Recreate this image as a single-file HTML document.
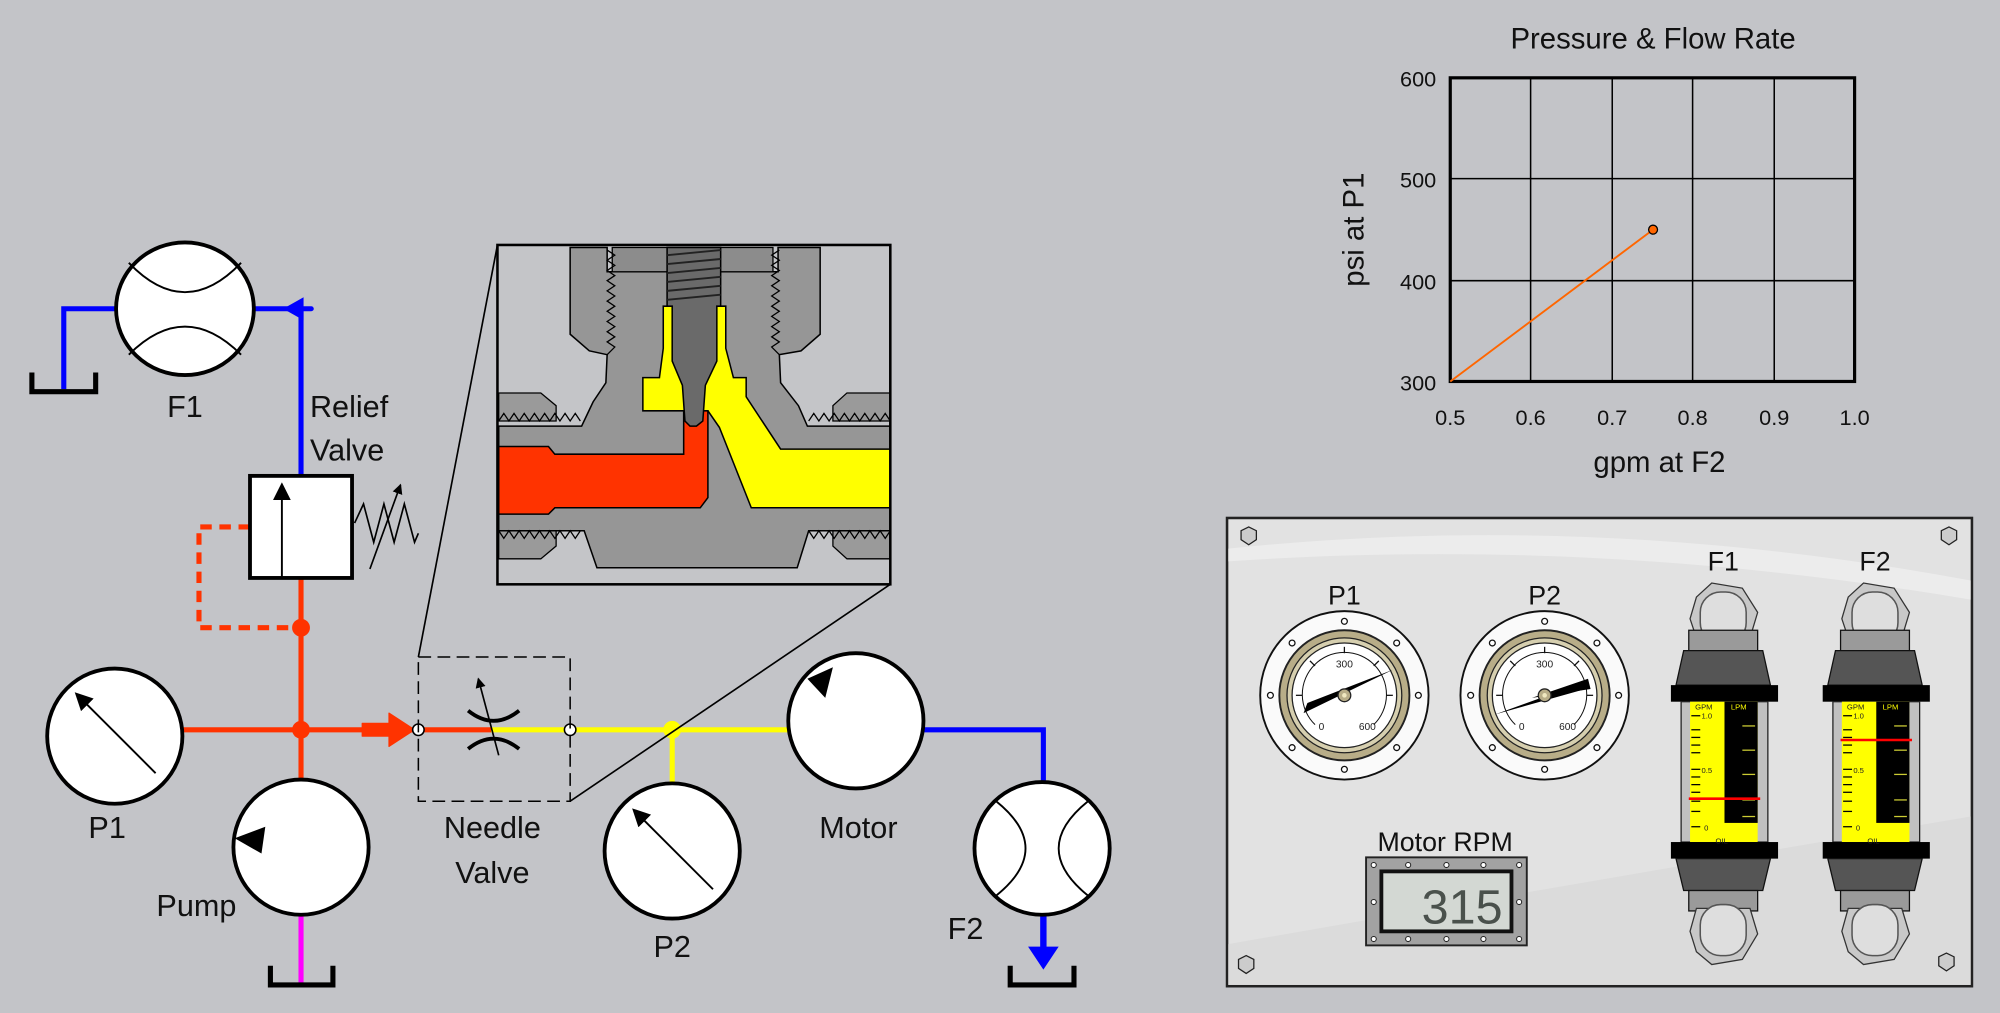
<!DOCTYPE html>
<html><head><meta charset="utf-8"><style>
html,body{margin:0;padding:0;background:#c3c4c8;}
svg{display:block;font-family:"Liberation Sans",sans-serif;}
</style></head><body>
<svg width="2000" height="1013" viewBox="0 0 1568 794" preserveAspectRatio="none" xmlns="http://www.w3.org/2000/svg">
<rect width="1568" height="794" fill="#c3c4c8"/>
<defs>
<marker id="ah" markerWidth="8" markerHeight="8" refX="7" refY="4" orient="auto" markerUnits="userSpaceOnUse"><path d="M0,0 L8,4 L0,8 Z" fill="#000"/></marker>
<marker id="ahb" markerWidth="14" markerHeight="14" refX="12" refY="7" orient="auto" markerUnits="userSpaceOnUse"><path d="M0,0 L14,7 L0,14 Z" fill="#000"/></marker>
</defs>

<g fill="none" stroke-width="4">
<polyline points="50,305 50,242 92,242" stroke="#0000ff"/>
<polyline points="198,242 244,242" stroke="#0000ff" stroke-linecap="round"/>
<line x1="236" y1="242" x2="236" y2="373" stroke="#0000ff"/>
<line x1="236" y1="453" x2="236" y2="612" stroke="#ff3300"/>
<polyline points="196,413 156,413 156,492 236,492" stroke="#ff3300" stroke-dasharray="9,6"/>
<line x1="143" y1="572" x2="328" y2="572" stroke="#ff3300"/>
<line x1="328" y1="572" x2="385" y2="572" stroke="#ff3300"/>
<line x1="385" y1="572" x2="620" y2="572" stroke="#ffff00"/>
<line x1="527" y1="572" x2="527" y2="614" stroke="#ffff00"/>
<polyline points="724,572 818,572 818,613" stroke="#0000ff"/>
<line x1="818" y1="717" x2="818" y2="745" stroke="#0000ff" stroke-width="5"/>
<line x1="236" y1="717" x2="236" y2="772" stroke="#ff00ff"/>
</g>
<path d="M222,242 L238,233 L238,251 Z" fill="#0000ff"/>
<path d="M806,742 L830,742 L818,760 Z" fill="#0000ff"/>
<path d="M284,567 L305,567 L305,559 L325,572 L305,585 L305,577 L284,577 Z" fill="#ff3300" stroke="#ff3300" stroke-width="1" stroke-linejoin="round"/>
<circle cx="236" cy="492" r="7" fill="#ff3300"/>
<circle cx="236" cy="572" r="7" fill="#ff3300"/>
<circle cx="527" cy="572" r="7" fill="#ffff00"/>
<circle cx="328" cy="572" r="4.5" fill="#fff" stroke="#000" stroke-width="1.2"/>
<circle cx="447" cy="572" r="4.5" fill="#fff" stroke="#000" stroke-width="1.2"/>

<g fill="none" stroke="#000" stroke-width="4">
<polyline points="25,292 25,307 75,307 75,292"/>
<polyline points="212,757 212,772 261,772 261,757"/>
<polyline points="792,757 792,772 842,772 842,757"/>
</g>

<ellipse cx="145" cy="242" rx="54" ry="52" fill="#fff" stroke="#000" stroke-width="3"/>
<path d="M101,206 Q145,252 189,206 M101,278 Q145,234 189,278" fill="none" stroke="#000" stroke-width="1.5"/>
<ellipse cx="817" cy="665" rx="53" ry="52" fill="#fff" stroke="#000" stroke-width="3"/>
<path d="M781,628 Q827,665 781,702 M853,628 Q807,665 853,702" fill="none" stroke="#000" stroke-width="1.5"/>

<rect x="196" y="373" width="80" height="80" fill="#fff" stroke="#000" stroke-width="3"/>
<line x1="221" y1="452" x2="221" y2="380" stroke="#000" stroke-width="1.5" marker-end="url(#ahb)"/>
<polyline points="278,410 285,395 293,425 301,395 309,425 317,395 325,425 328,418" fill="none" stroke="#000" stroke-width="1.3"/>
<line x1="290" y1="446" x2="314" y2="380" stroke="#000" stroke-width="1.3" marker-end="url(#ah)"/>

<circle cx="90" cy="577" r="53" fill="#fff" stroke="#000" stroke-width="3"/>
<line x1="122" y1="606" x2="60" y2="544" stroke="#000" stroke-width="1.5" marker-end="url(#ahb)"/>
<circle cx="236" cy="664" r="53" fill="#fff" stroke="#000" stroke-width="3"/>
<path d="M184,657 L208,648 L205,669 Z" fill="#000"/>
<circle cx="527" cy="667" r="53" fill="#fff" stroke="#000" stroke-width="3"/>
<line x1="559" y1="697" x2="497" y2="635" stroke="#000" stroke-width="1.5" marker-end="url(#ahb)"/>
<circle cx="671" cy="565" r="53" fill="#fff" stroke="#000" stroke-width="3"/>
<path d="M633,532 L653,523 L647,547 Z" fill="#000"/>

<rect x="328" y="515" width="119" height="113" fill="none" stroke="#000" stroke-width="1.2" stroke-dasharray="10,5"/>
<path d="M367,557 Q387,573 407,557" fill="none" stroke="#000" stroke-width="3"/>
<path d="M367,587 Q387,571 407,587" fill="none" stroke="#000" stroke-width="3"/>
<line x1="391" y1="592" x2="375" y2="532" stroke="#000" stroke-width="1.3" marker-end="url(#ah)"/>

<line x1="390" y1="192" x2="328" y2="515" stroke="#000" stroke-width="1.3"/>
<line x1="698" y1="458" x2="447" y2="628" stroke="#000" stroke-width="1.3"/>

<g>
<rect x="390" y="192" width="308" height="266" fill="#c4c5c8"/>
<path d="M391,308 L424,308 L436,318 L436,330 L391,330 Z" fill="#9a9a9a" stroke="#000" stroke-width="1"/>
<path d="M698,308 L664,308 L653,318 L653,330 L698,330 Z" fill="#9a9a9a" stroke="#000" stroke-width="1"/>
<path d="M391,416 L436,416 L436,428 L424,438 L391,438 Z" fill="#9a9a9a" stroke="#000" stroke-width="1"/>
<path d="M698,416 L653,416 L653,428 L664,438 L698,438 Z" fill="#9a9a9a" stroke="#000" stroke-width="1"/>
<path d="M447,194 L476,194 L476,213 L610,213 L610,194 L643,194 L643,262 L628,275 L611,278 L612,300 L626,318 L633,334 L698,334 L698,416 L634,416 L625,445 L468,445 L458,416 L391,416 L391,334 L456,334 L465,315 L475,300 L476,278 L462,275 L447,262 Z" fill="#969696" stroke="#000" stroke-width="1.2"/>
<path d="M480,194 L606,194 L606,213 L480,213 Z" fill="#8c8c8c" stroke="#000" stroke-width="1"/>
<polyline points="476,196 482,200 476,204 482,208 476,212 482,216 476,220 482,224 476,228 482,232 476,236 482,240 476,244 482,248 476,252 482,256 476,260 482,264 476,268 482,272 476,278" fill="none" stroke="#000" stroke-width="1"/>
<polyline points="611,196 605,200 611,204 605,208 611,212 605,216 611,220 605,224 611,228 605,232 611,236 605,240 611,244 605,248 611,252 605,256 611,260 605,264 611,268 605,272 611,278" fill="none" stroke="#000" stroke-width="1"/>
<polyline points="391,330 395,324 399,330 403,324 407,330 411,324 415,330 419,324 423,330 427,324 431,330 435,324 439,330 443,324 447,330 451,324 455,330" fill="none" stroke="#000" stroke-width="1"/>
<polyline points="634,330 638,324 642,330 646,324 650,330 654,324 658,330 662,324 666,330 670,324 674,330 678,324 682,330 686,324 690,330 694,324 698,330" fill="none" stroke="#000" stroke-width="1"/>
<polyline points="391,416 395,422 399,416 403,422 407,416 411,422 415,416 419,422 423,416 427,422 431,416 435,422 439,416 443,422 447,416 451,422 455,416" fill="none" stroke="#000" stroke-width="1"/>
<polyline points="634,416 638,422 642,416 646,422 650,416 654,422 658,416 662,422 666,416 670,422 674,416 678,422 682,416 686,422 690,416 694,422 698,416" fill="none" stroke="#000" stroke-width="1"/>
<path d="M520,240 L569,240 L569,273 L575,296 L585,296 L585,311 L612,352 L698,352 L698,398 L589,398 L564,335 L555,322 L504,322 L504,296 L517,296 L520,273 Z" fill="#ffff00" stroke="#000" stroke-width="1.2"/>
<path d="M391,350 L430,350 L435,356 L536,356 L536,322 L555,322 L555,390 L549,398 L435,398 L430,403 L391,403 Z" fill="#ff3300" stroke="#000" stroke-width="1.2"/>
<path d="M523,194 L565,194 L565,240 L562,240 L562,283 L553,302 L551,330 L546,334 L541,334 L537,330 L535,302 L527,283 L527,240 L523,240 Z" fill="#6a6a6a" stroke="#000" stroke-width="1.2"/>
<g stroke="#222" stroke-width="1.5">
<line x1="523" y1="200" x2="565" y2="196"/><line x1="523" y1="207" x2="565" y2="203"/><line x1="523" y1="214" x2="565" y2="210"/><line x1="523" y1="221" x2="565" y2="217"/><line x1="523" y1="228" x2="565" y2="224"/><line x1="523" y1="235" x2="565" y2="231"/>
</g>
<rect x="390" y="192" width="308" height="266" fill="none" stroke="#000" stroke-width="2"/>
</g>

<g font-size="24" fill="#111">
<text x="145" y="327" text-anchor="middle">F1</text>
<text x="243" y="327">Relief</text>
<text x="243" y="361">Valve</text>
<text x="84" y="657" text-anchor="middle">P1</text>
<text x="154" y="718" text-anchor="middle">Pump</text>
<text x="386" y="657" text-anchor="middle">Needle</text>
<text x="386" y="692" text-anchor="middle">Valve</text>
<text x="527" y="750" text-anchor="middle">P2</text>
<text x="673" y="657" text-anchor="middle">Motor</text>
<text x="757" y="736" text-anchor="middle">F2</text>
</g>

<g>
<text x="1296" y="38" text-anchor="middle" font-size="23" fill="#111">Pressure &amp; Flow Rate</text>
<rect x="1137" y="61" width="317" height="238" fill="none" stroke="#000" stroke-width="2.5"/>
<g stroke="#000" stroke-width="1.2">
<line x1="1200" y1="61" x2="1200" y2="299"/><line x1="1264" y1="61" x2="1264" y2="299"/><line x1="1327" y1="61" x2="1327" y2="299"/><line x1="1391" y1="61" x2="1391" y2="299"/>
<line x1="1137" y1="140" x2="1454" y2="140"/><line x1="1137" y1="220" x2="1454" y2="220"/>
</g>
<g font-size="17" fill="#111" text-anchor="end">
<text x="1126" y="68">600</text><text x="1126" y="147">500</text><text x="1126" y="227">400</text><text x="1126" y="306">300</text>
</g>
<g font-size="17" fill="#111" text-anchor="middle">
<text x="1137" y="333">0.5</text><text x="1200" y="333">0.6</text><text x="1264" y="333">0.7</text><text x="1327" y="333">0.8</text><text x="1391" y="333">0.9</text><text x="1454" y="333">1.0</text>
</g>
<text x="1301" y="370" text-anchor="middle" font-size="23" fill="#111">gpm at F2</text>
<text transform="translate(1069,180) rotate(-90)" text-anchor="middle" font-size="23" fill="#111">psi at P1</text>
<line x1="1137" y1="299" x2="1296" y2="180" stroke="#ff6600" stroke-width="1.5"/>
<circle cx="1296" cy="180" r="3.5" fill="#ff6600" stroke="#000" stroke-width="1"/>
</g>

<g>
<rect x="962" y="406" width="584" height="367" fill="#e2e2e2" stroke="#222" stroke-width="2"/>
<path d="M963,430 Q1250,400 1545,455 L1545,470 Q1250,420 963,440 Z" fill="#ececec"/>
<path d="M963,740 Q1250,690 1545,640 L1545,772 L963,772 Z" fill="#dbdbdb"/>
<g fill="#ccc" stroke="#222" stroke-width="1">
<polygon points="973,416 979,413 985,416 985,423 979,427 973,423"/>
<polygon points="1522,416 1528,413 1534,416 1534,423 1528,427 1522,423"/>
<polygon points="971,752 977,749 983,752 983,759 977,763 971,759"/>
<polygon points="1520,750 1526,747 1532,750 1532,757 1526,761 1520,757"/>
</g>
<text x="1054" y="474" text-anchor="middle" font-size="21" fill="#111">P1</text>
<text x="1211" y="474" text-anchor="middle" font-size="21" fill="#111">P2</text>
<text x="1351" y="447" text-anchor="middle" font-size="21" fill="#111">F1</text>
<text x="1470" y="447" text-anchor="middle" font-size="21" fill="#111">F2</text>
<text x="1133" y="667" text-anchor="middle" font-size="21" fill="#111">Motor RPM</text>

<g id="g1" transform="translate(1054,545)">
<circle r="66" fill="#fafafa" stroke="#111" stroke-width="1.5"/>
<circle r="51" fill="#b8ad88" stroke="#222" stroke-width="1.5"/>
<circle r="45" fill="#d6cfaf" stroke="#222" stroke-width="1"/>
<circle r="41" fill="#fff" stroke="#222" stroke-width="1"/>
<path d="M-23,23 A33,33 0 1 1 23,23" fill="none" stroke="#111" stroke-width="0.8"/>
<g fill="#fff" stroke="#111" stroke-width="1"><circle cy="-58" r="2.3"/><circle cy="58" r="2.3"/><circle cx="-58" r="2.3"/><circle cx="58" r="2.3"/><circle cx="-41" cy="-41" r="2.3"/><circle cx="41" cy="-41" r="2.3"/><circle cx="-41" cy="41" r="2.3"/><circle cx="41" cy="41" r="2.3"/></g>
<g stroke="#111" stroke-width="1"><line y1="-33" y2="-38"/><line x1="-33" x2="-38"/><line x1="33" x2="38"/><line x1="-23" y1="-23" x2="-27" y2="-27"/><line x1="23" y1="-23" x2="27" y2="-27"/></g>
<g font-size="8" fill="#222" text-anchor="middle"><text y="-22">300</text><text x="-18" y="27">0</text><text x="18" y="27">600</text></g>
</g>
<g transform="translate(1054,545)"><path d="M-32,14 L-29,6 L38,-20 Z" fill="#000"/><circle r="5" fill="#b8ad88" stroke="#222"/><circle r="1.8" fill="#f0e8c0"/></g>
<use href="#g1" x="157"/>
<g transform="translate(1211,545)"><path d="M-39,15 L33,-11 L32,-5 Z" fill="#000"/><path d="M-10,2 L34,-13 L36,-5 Z" fill="#000"/><circle r="5" fill="#b8ad88" stroke="#222"/><circle r="1.8" fill="#f0e8c0"/></g>

<rect x="1071" y="672" width="126" height="69" fill="#a2a2a2" stroke="#222" stroke-width="1.5"/>
<rect x="1083" y="683" width="102" height="47" fill="#d3d8d3" stroke="#111" stroke-width="3"/>
<text x="1178" y="724" text-anchor="end" font-size="38" fill="#4a514c">315</text>
<g fill="#fff" stroke="#222" stroke-width="0.8">
<circle cx="1077" cy="678" r="2"/><circle cx="1104" cy="678" r="2"/><circle cx="1134" cy="678" r="2"/><circle cx="1163" cy="678" r="2"/><circle cx="1191" cy="678" r="2"/>
<circle cx="1077" cy="736" r="2"/><circle cx="1104" cy="736" r="2"/><circle cx="1134" cy="736" r="2"/><circle cx="1163" cy="736" r="2"/><circle cx="1191" cy="736" r="2"/>
<circle cx="1077" cy="707" r="2"/><circle cx="1191" cy="707" r="2"/>
</g>

<g id="rm">
<polygon points="1330,468 1342,457 1366,461 1378,480 1372,500 1330,500 1325,485" fill="#c8c8c8" stroke="#333" stroke-width="1"/>
<rect x="1333" y="464" width="36" height="40" rx="16" fill="#dedede" stroke="#555" stroke-width="1.2"/>
<rect x="1324" y="494" width="54" height="16" fill="#9a9a9a" stroke="#111" stroke-width="1"/>
<polygon points="1320,510 1382,510 1388,537 1314,537" fill="#555" stroke="#111" stroke-width="1"/>
<rect x="1310" y="537" width="84" height="13" fill="#000"/>
<rect x="1318" y="550" width="68" height="110" fill="#c0c0c0" stroke="#222" stroke-width="1"/>
<rect x="1325" y="550" width="53" height="110" fill="#ffff00"/>
<rect x="1352" y="550" width="26" height="95" fill="#000"/>
<rect x="1310" y="660" width="84" height="13" fill="#000"/>
<polygon points="1314,673 1388,673 1382,698 1320,698" fill="#555" stroke="#111" stroke-width="1"/>
<rect x="1324" y="698" width="54" height="16" fill="#9a9a9a" stroke="#111" stroke-width="1"/>
<polygon points="1325,730 1330,712 1372,712 1378,732 1366,752 1342,756 1330,746" fill="#c8c8c8" stroke="#333" stroke-width="1"/>
<rect x="1333" y="709" width="36" height="40" rx="16" fill="#dedede" stroke="#555" stroke-width="1.2"/>
<g stroke="#000" stroke-width="1"><line x1="1326" y1="561" x2="1333" y2="561"/><line x1="1326" y1="572" x2="1333" y2="572"/><line x1="1326" y1="578" x2="1333" y2="578"/><line x1="1326" y1="584" x2="1333" y2="584"/><line x1="1326" y1="590" x2="1333" y2="590"/><line x1="1326" y1="603" x2="1333" y2="603"/><line x1="1326" y1="609" x2="1333" y2="609"/><line x1="1326" y1="615" x2="1333" y2="615"/><line x1="1326" y1="621" x2="1333" y2="621"/><line x1="1326" y1="628" x2="1333" y2="628"/><line x1="1326" y1="636" x2="1333" y2="636"/><line x1="1326" y1="648" x2="1333" y2="648"/></g>
<g stroke="#cccc33" stroke-width="1"><line x1="1366" y1="569" x2="1376" y2="569"/><line x1="1366" y1="588" x2="1376" y2="588"/><line x1="1366" y1="607" x2="1376" y2="607"/><line x1="1366" y1="627" x2="1376" y2="627"/><line x1="1366" y1="640" x2="1376" y2="640"/></g>
<g font-size="6" fill="#222"><text x="1329" y="556">GPM</text><text x="1334" y="563">1.0</text><text x="1334" y="606">0.5</text><text x="1336" y="651">0</text><text x="1345" y="661">OIL</text></g>
<text x="1357" y="556" font-size="6" fill="#ffff00">LPM</text>
</g>
<line x1="1324" y1="626" x2="1380" y2="626" stroke="#ff0000" stroke-width="2"/>
<use href="#rm" x="119"/>
<line x1="1443" y1="580" x2="1499" y2="580" stroke="#ff0000" stroke-width="2"/>
</g>
</svg>
</body></html>
